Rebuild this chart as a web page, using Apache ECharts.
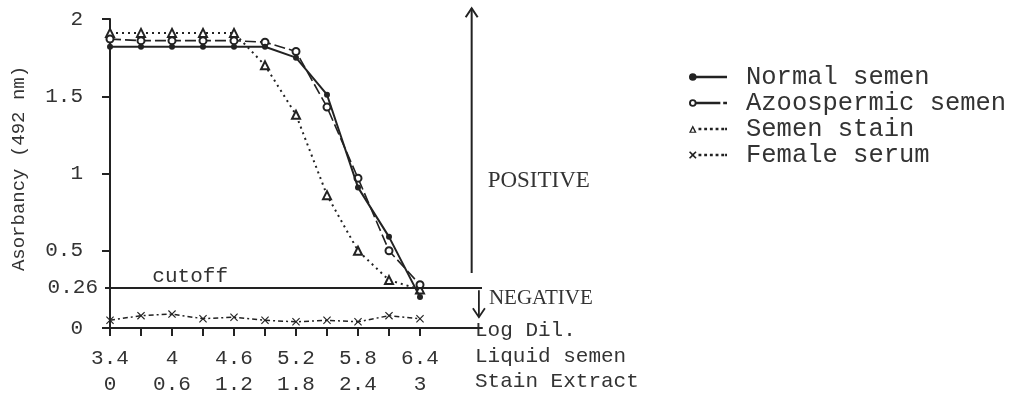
<!DOCTYPE html>
<html><head><meta charset="utf-8">
<script src="https://cdn.jsdelivr.net/npm/echarts@6/dist/echarts.min.js"></script>
<style>html,body{margin:0;padding:0;background:#fff}#c{width:1018px;height:399px}</style>
</head><body><div id="c"></div>
<script>
// Log dilution (stain extract scale); liquid semen = stain extract + 3.4
const dilutions = [0, 0.3, 0.6, 0.9, 1.2, 1.5, 1.8, 2.1, 2.4, 2.7, 3.0];
const labelPositions = [0, 0.6, 1.2, 1.8, 2.4, 3.0];
const liquidLabels = ['3.4', '4', '4.6', '5.2', '5.8', '6.4'];
const stainLabels = ['0', '0.6', '1.2', '1.8', '2.4', '3'];
const yTickValues = [0, 0.5, 1, 1.5, 2];
const yTickLabels = ['0', '0.5', '1', '1.5', '2'];
const cutoffValue = 0.26;
const cutoffLabel = '0.26';

const normalSemen      = [1.82, 1.82, 1.82, 1.82, 1.82, 1.82, 1.75, 1.51, 0.91, 0.59, 0.20];
const azoospermicSemen = [1.87, 1.86, 1.86, 1.86, 1.86, 1.85, 1.79, 1.43, 0.97, 0.50, 0.28];
const semenStain       = [1.91, 1.91, 1.91, 1.91, 1.91, 1.70, 1.38, 0.86, 0.50, 0.31, 0.25];
const femaleSerum      = [0.05, 0.08, 0.09, 0.06, 0.07, 0.05, 0.04, 0.05, 0.04, 0.08, 0.06];

const seriesNames = ['Normal semen', 'Azoospermic semen', 'Semen stain', 'Female serum'];
const rowLabels = ['Log Dil.', 'Liquid semen', 'Stain Extract'];

const INK = '#222';
const TXT = '#333';
const MONO = '"Liberation Mono", "DejaVu Sans Mono", monospace';
const SERIF = '"Liberation Serif", "DejaVu Serif", serif';

const dots = 'M10,2.6H13V5.4H10Z M16,2.6H19V5.4H16Z M22,2.6H25V5.4H22Z M28,2.6H31V5.4H28Z M34,2.6H37V5.4H34Z M38,2.6H40V5.4H38Z';
const icons = [
  'path://M0,4A4,4 0 1 1 8,4A4,4 0 1 1 0,4Z M7,2.7H40V5.3H7Z',
  'path://M0,4A4,4 0 1 1 8,4A4,4 0 1 1 0,4Z M2,4A2,2 0 1 0 6,4A2,2 0 1 0 2,4Z M7.5,2.7H33V5.3H7.5Z M36,2.6H40V5.4H36Z',
  'path://M0,8L4,0L8,8Z M2.2,6.8L5.8,6.8L4,3.2Z ' + dots,
  'path://M0,1.2L1.2,0L4,2.8L6.8,0L8,1.2L5.2,4L8,6.8L6.8,8L4,5.2L1.2,8L0,6.8L2.8,4Z ' + dots
];
const crossSymbol = 'path://M0,1L1,0L5,4L9,0L10,1L6,5L10,9L9,10L5,6L1,10L0,9L4,5Z';

function pairs(vals) { return dilutions.map((d, i) => [d, vals[i]]); }

const chart = echarts.init(document.getElementById('c'), null, {renderer: 'canvas'});

const option = {
  animation: false,
  backgroundColor: '#fff',
  grid: {left: 110, top: 19, width: 372, height: 309},
  legend: {
    orient: 'vertical', left: 684, top: 59,
    itemWidth: 38, itemHeight: 8, itemGap: 0,
    textStyle: {fontFamily: MONO, fontSize: 25.5, lineHeight: 25, color: TXT, padding: [0, 0, 0, 14]},
    data: seriesNames.map((n, i) => ({name: n, icon: icons[i], itemStyle: {color: INK}}))
  },
  xAxis: {
    type: 'value', min: 0, max: 3.6,
    axisLine: {show: true, lineStyle: {color: INK, width: 2}},
    axisTick: {show: true, customValues: dilutions, length: 8, lineStyle: {color: INK, width: 2}},
    axisLabel: {
      customValues: labelPositions,
      formatter: v => {
        const i = labelPositions.findIndex(p => Math.abs(p - v) < 1e-6);
        return i < 0 ? '' : liquidLabels[i] + '\n' + stainLabels[i];
      },
      fontFamily: MONO, fontSize: 21, lineHeight: 26, color: TXT, margin: 17
    },
    splitLine: {show: false}
  },
  yAxis: [{
    type: 'value', min: 0, max: 2,
    name: 'Asorbancy (492 nm)', nameLocation: 'middle', nameGap: 82, nameRotate: 90,
    nameTextStyle: {fontFamily: MONO, fontSize: 19, color: TXT, padding: [0, 0, 0, 10]},
    axisLine: {show: true, lineStyle: {color: INK, width: 2}},
    axisTick: {show: true, customValues: yTickValues, length: 8, lineStyle: {color: INK, width: 2}},
    axisLabel: {
      customValues: yTickValues,
      formatter: v => { const i = yTickValues.findIndex(p => Math.abs(p - v) < 1e-6); return i < 0 ? '' : yTickLabels[i]; },
      fontFamily: MONO, fontSize: 21, color: TXT, margin: 27
    },
    splitLine: {show: false}
  }, {
    type: 'value', min: 0, max: 2, position: 'left',
    axisLine: {show: false},
    axisTick: {show: true, customValues: [cutoffValue], length: 5, lineStyle: {color: INK, width: 2}},
    axisLabel: {customValues: [cutoffValue], formatter: () => cutoffLabel, fontFamily: MONO, fontSize: 21, color: TXT, margin: 12},
    splitLine: {show: false}
  }],
  series: [
    {
      name: seriesNames[0], type: 'line', data: pairs(normalSemen),
      symbol: 'circle', symbolSize: 6, itemStyle: {color: INK},
      lineStyle: {color: INK, width: 2},
      markLine: {
        silent: true, symbol: 'none', label: {show: false},
        lineStyle: {color: INK, width: 2, type: 'solid'},
        data: [{yAxis: cutoffValue}]
      },
      z: 5
    },
    {
      name: seriesNames[1], type: 'line', data: pairs(azoospermicSemen),
      symbol: 'emptyCircle', symbolSize: 7, itemStyle: {color: INK, borderWidth: 1.5},
      lineStyle: {color: INK, width: 1.6, type: [11, 4]}, z: 4
    },
    {
      name: seriesNames[2], type: 'line', data: pairs(semenStain),
      symbol: 'emptyTriangle', symbolSize: 8, itemStyle: {color: INK, borderWidth: 1.5},
      lineStyle: {color: INK, width: 2, type: [2, 4]}, z: 3
    },
    {
      name: seriesNames[3], type: 'line', data: pairs(femaleSerum),
      symbol: crossSymbol, symbolSize: 8, itemStyle: {color: INK},
      lineStyle: {color: INK, width: 1.5, type: [5, 3, 2, 3]}, z: 3
    }
  ]
};
chart.setOption(option);

const px = (x, y) => chart.convertToPixel({xAxisIndex: 0, yAxisIndex: 0}, [x, y]);
const upBot = px(3.5, 0.356), upTop = px(3.5, 2.07);
const dnTop = px(3.57, 0.245), dnBot = px(3.57, 0.07);
const cut = px(0.41, cutoffValue);
const axis0 = px(3.6, 0);
const posY = px(0, 0.95)[1];
const negY = px(0, 0.19)[1];

chart.setOption({
  graphic: [
    {type: 'line', shape: {x1: upBot[0], y1: upBot[1], x2: upTop[0], y2: upTop[1]}, style: {stroke: INK, lineWidth: 2}},
    {type: 'polyline', shape: {points: [[upTop[0] - 6, upTop[1] + 9], [upTop[0], upTop[1]], [upTop[0] + 6, upTop[1] + 9]]}, style: {stroke: INK, lineWidth: 2, fill: null}},
    {type: 'line', shape: {x1: dnTop[0], y1: dnTop[1], x2: dnBot[0], y2: dnBot[1]}, style: {stroke: INK, lineWidth: 1.8}},
    {type: 'polyline', shape: {points: [[dnBot[0] - 6, dnBot[1] - 9], [dnBot[0], dnBot[1]], [dnBot[0] + 6, dnBot[1] - 9]]}, style: {stroke: INK, lineWidth: 1.8, fill: null}},
    {type: 'text', x: cut[0], y: cut[1] - 1, style: {text: 'cutoff', font: '21px ' + MONO, fill: TXT, textAlign: 'left', textVerticalAlign: 'bottom'}},
    {type: 'text', x: upBot[0] + 16, y: posY, style: {text: 'POSITIVE', font: '23px ' + SERIF, fill: TXT, textAlign: 'left', textVerticalAlign: 'middle'}},
    {type: 'text', x: dnTop[0] + 10, y: negY, style: {text: 'NEGATIVE', font: '21px ' + SERIF, fill: TXT, textAlign: 'left', textVerticalAlign: 'middle'}},
    {type: 'text', x: axis0[0] - 7, y: axis0[1] + 2, style: {text: rowLabels[0], font: '21px ' + MONO, fill: TXT, textAlign: 'left', textVerticalAlign: 'middle'}},
    {type: 'text', x: axis0[0] - 7, y: axis0[1] + 28, style: {text: rowLabels[1], font: '21px ' + MONO, fill: TXT, textAlign: 'left', textVerticalAlign: 'middle'}},
    {type: 'text', x: axis0[0] - 7, y: axis0[1] + 53, style: {text: rowLabels[2], font: '21px ' + MONO, fill: TXT, textAlign: 'left', textVerticalAlign: 'middle'}}
  ]
});
</script>
</body></html>
